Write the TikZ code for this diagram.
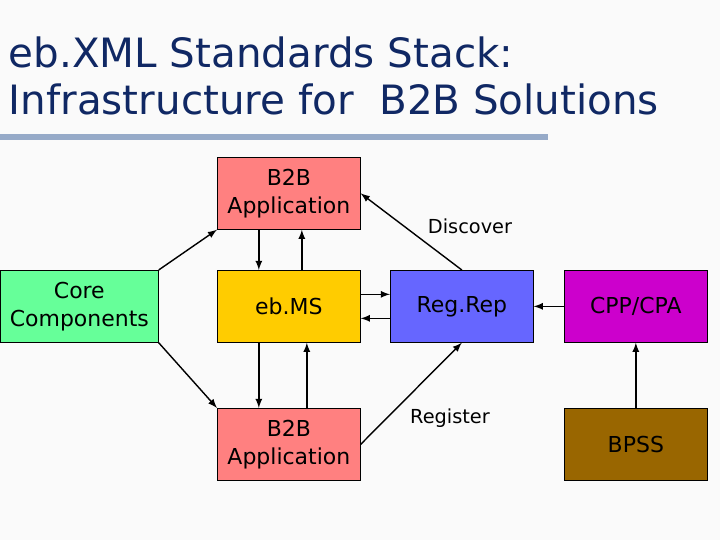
\documentclass[tikz,border=0pt]{standalone}
\usepackage{fontspec}
\setmainfont{DejaVu Sans}
\usetikzlibrary{positioning}
\definecolor{titleblue}{RGB}{16,40,100}
\definecolor{rulegray}{RGB}{150,170,200}
\definecolor{appred}{RGB}{255,128,128}
\definecolor{coregreen}{RGB}{102,255,153}
\definecolor{msyellow}{RGB}{255,204,0}
\definecolor{regblue}{RGB}{102,102,255}
\definecolor{cppmag}{RGB}{204,0,204}
\definecolor{bpssbrown}{RGB}{153,102,0}
\tikzset{
every picture/.style={
line width=1pt
}}
\begin{document}
\begin{tikzpicture}[x=0.02cm, y=-0.02cm,
box/.style = {rectangle, draw=black, thin, align=center, minimum width=2.86cm, minimum height=1.44cm, inner sep=1pt, font=\fontsize{12.5}{16}\selectfont},
link/.style = {-latex, thick}]

\useasboundingbox (0,0) rectangle (720,540);
\fill[white!96!gray] (0,0) rectangle (720,540);

% title
\node[anchor=west, text=titleblue, align=left, font=\fontsize{23}{27}\selectfont] (title) at (2,76)
  {eb.XML Standards Stack:\\Infrastructure for~~B2B Solutions};
\draw[rulegray, line width=3pt] (0,137) -- (548,137);

% boxes
\node[box, fill=appred, anchor=north west] (app1) at (217,157) {B2B\\Application};
\node[box, fill=msyellow, anchor=north west] (ms) at (217,270) {eb.MS};
\node[box, fill=appred, anchor=north west] (app2) at (217,408) {B2B\\Application};
\node[box, fill=coregreen, anchor=north west, minimum width=3.16cm] (core) at (0,270) {Core\\Components};
\node[box, fill=regblue, anchor=north west] (reg) at (390,270) {Reg.Rep};
\node[box, fill=cppmag, anchor=north west] (cpp) at (564,270) {CPP/CPA};
\node[box, fill=bpssbrown, anchor=north west] (bpss) at (564,408) {BPSS};

% labels
\node[font=\fontsize{11}{13}\selectfont] (disc) at (470,226) {Discover};
\node[font=\fontsize{11}{13}\selectfont] (regi) at (450,418) {Register};

% connectors
\draw[link] (core.north east) -- (app1.south west);
\draw[link] (core.south east) -- (app2.north west);
\draw[link] ([xshift=-0.6cm]app1.south) -- ([xshift=-0.6cm]ms.north);
\draw[link] ([xshift=0.26cm]ms.north) -- ([xshift=0.26cm]app1.south);
\draw[link] ([xshift=-0.6cm]ms.south) -- ([xshift=-0.6cm]app2.north);
\draw[link] ([xshift=0.36cm]app2.north) -- ([xshift=0.36cm]ms.south);
\draw[link] ([yshift=0.24cm]ms.east) -- ([yshift=0.24cm]reg.west);
\draw[link] ([yshift=-0.24cm]reg.west) -- ([yshift=-0.24cm]ms.east);
\draw[link] (reg.north) -- (app1.east);
\draw[link] (app2.east) -- (reg.south);
\draw[link] (cpp.west) -- (reg.east);
\draw[link] (bpss.north) -- (cpp.south);

\end{tikzpicture}
\end{document}
